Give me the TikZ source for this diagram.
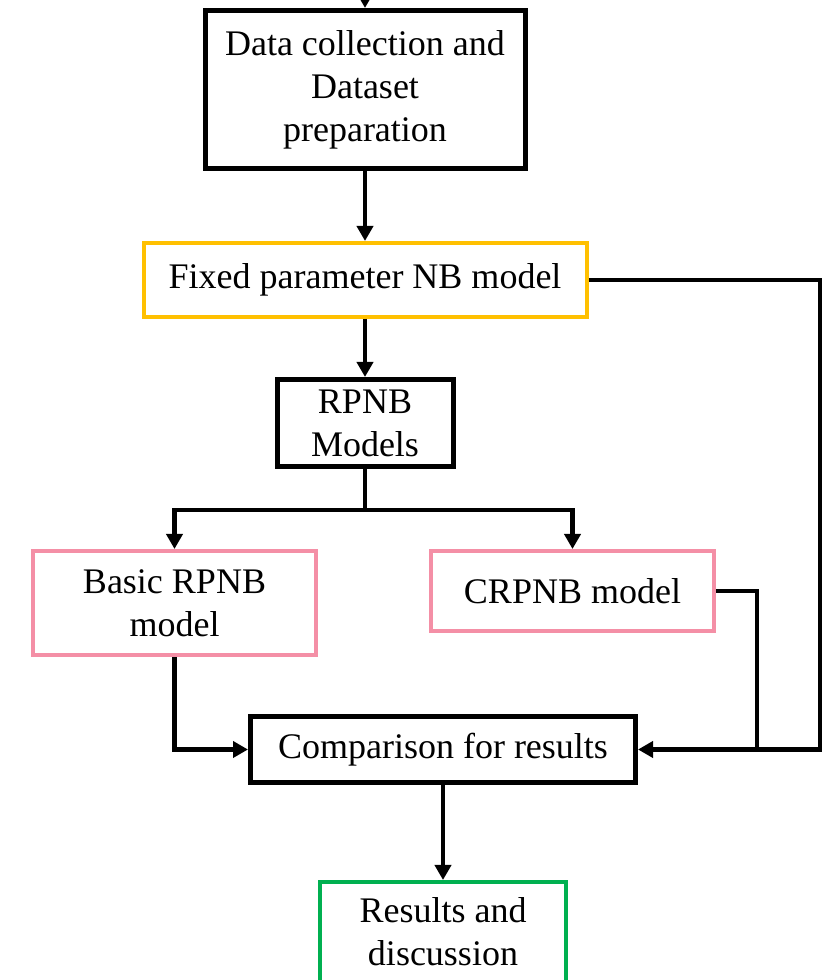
\documentclass[tikz,border=0pt]{standalone}
\usepackage{fontspec}
\setmainfont{Liberation Serif}
\usepackage{xcolor}
\usepackage{tikz}
\usetikzlibrary{arrows.meta,positioning,calc}

\definecolor{boxyellow}{RGB}{255,192,0}
\definecolor{boxpink}{RGB}{244,143,166}
\definecolor{boxgreen}{RGB}{0,176,80}

\begin{document}
\begin{tikzpicture}[x=0.5pt, y=0.5pt,
    box/.style={draw, line width=2pt, inner sep=0pt, align=center,
        font=\fontsize{18}{21.5}\selectfont},
    arr/.style={line width=2.2pt, -{Triangle[length=7.5pt, width=8pt]}},
    link/.style={line width=2.2pt}]
    \useasboundingbox (0, 0) rectangle (833, 980);

    % Data preparation
    \coordinate (start) at (365, 1000);
    \node [box, line width=2.5pt, minimum width=160pt, minimum height=79pt] (data) at (365, 890.5)
        {\raisebox{-3pt}{\parbox{158pt}{\centering Data collection and\\Dataset\\preparation}}};
    \draw [arr] (start) -- (data);

    % Fixed parameter model
    \node [box, draw=boxyellow, minimum width=221.5pt, minimum height=37pt] (fixed) at (365, 700)
        {Fixed parameter NB model};
    \draw [arr] (data) -- (fixed);

    % Random parameter models
    \node [box, line width=2.5pt, minimum width=88pt, minimum height=43.5pt] (rpnb) at (365, 557)
        {RPNB\\Models};
    \draw [arr] (fixed) -- (rpnb);

    \node [box, draw=boxpink, minimum width=141.5pt, minimum height=52pt] (basic) at (174.5, 377)
        {Basic RPNB\\model};
    \node [box, draw=boxpink, minimum width=141.5pt, minimum height=40pt] (crpnb) at (572.5, 389)
        {CRPNB model};

    \coordinate (split) at (365, 470);
    \draw [link] (rpnb) -- (split);
    \draw [arr] (split) -| (basic);
    \draw [arr] (split) -| (crpnb);

    % Comparison
    \node [box, line width=2.5pt, minimum width=192.5pt, minimum height=33pt] (comp) at (443, 230.5)
        {Comparison for results};
    \coordinate (join) at (757, 230.5);
    \coordinate (outer) at (820, 230.5);

    \draw [arr] (basic) |- (comp);
    \draw [link] (fixed.east) -| (outer) -- (join);
    \draw [arr] (crpnb.east) -| (join) -- (comp.east);

    % Results
    \node [box, draw=boxgreen, minimum width=123pt, minimum height=50pt] (results) at (443, 48)
        {Results and\\discussion};
    \draw [arr] (comp) -- (results);
\end{tikzpicture}
\end{document}
